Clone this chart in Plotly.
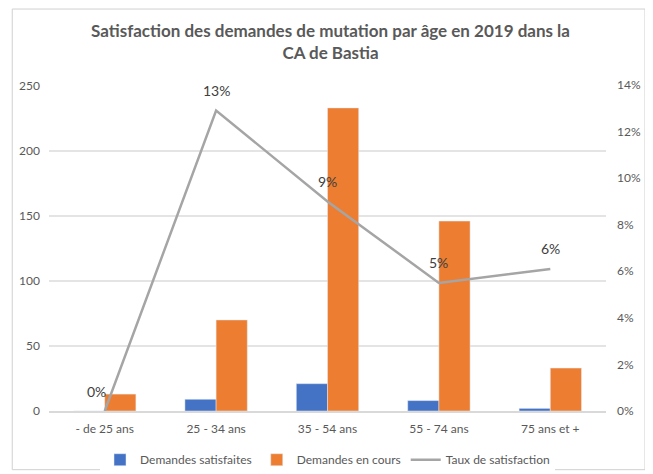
import plotly.graph_objects as go

categories = ["- de 25 ans", "25 - 34 ans", "35 - 54 ans", "55 - 74 ans", "75 ans et +"]
satisfaites = [0, 9, 21, 8, 2]
en_cours = [13, 70, 233, 146, 33]
taux = [0.0, 0.129, 0.09, 0.055, 0.061]
taux_labels = ["0%", "13%", "9%", "5%", "6%"]

fig = go.Figure()
fig.add_trace(go.Bar(x=categories, y=satisfaites, name="Demandes satisfaites",
                     marker_color="#4472C4"))
fig.add_trace(go.Bar(x=categories, y=en_cours, name="Demandes en cours",
                     marker_color="#ED7D31"))
fig.add_trace(go.Scatter(x=categories, y=taux, name="Taux de satisfaction",
                         yaxis="y2", mode="lines",
                         line=dict(color="#A5A5A5", width=2.5)))

# data labels above the line points
for i, (c, v, t) in enumerate(zip(categories, taux, taux_labels)):
    fig.add_annotation(x=c, y=v, xref="x", yref="y2", text=t, showarrow=False,
                       yshift=20, xshift=-8 if i == 0 else 0,
                       font=dict(size=14, color="#404040"))

# page body has an 8px margin, so the figure is a bit smaller than the window
fig.update_layout(
    width=645, height=466,
    paper_bgcolor="white", plot_bgcolor="white",
    font=dict(family="Lato, Open Sans, sans-serif", color="#595959"),
    title=dict(text="<b>Satisfaction des demandes de mutation par âge en 2019 dans la<br>CA de Bastia</b>",
               x=0.5, xanchor="center", y=0.938, yanchor="top",
               font=dict(size=17, color="#595959")),
    margin=dict(l=41, r=47, t=77, b=63, autoexpand=False),
    barmode="group", bargap=0.44, bargroupgap=0,
    xaxis=dict(showline=True, linecolor="#D9D9D9", linewidth=1.5,
               tickfont=dict(size=12), ticks="", automargin=False,
               ticklabelstandoff=6, showgrid=False),
    yaxis=dict(range=[0, 250.6], dtick=50, showgrid=True, gridcolor="#E4E4E4",
               gridwidth=2, zeroline=False, automargin=False,
               tickfont=dict(size=12), ticklabelstandoff=8),
    yaxis2=dict(range=[0, 0.14], dtick=0.02, tickformat=".0%", overlaying="y",
                side="right", showgrid=False, zeroline=False, automargin=False,
                tickfont=dict(size=12), ticklabelstandoff=10),
    legend=dict(orientation="h", x=0.5, xanchor="center", y=-0.105, yanchor="top",
                font=dict(size=12), traceorder="normal"),
    shapes=[dict(type="rect", xref="paper", yref="paper",
                 x0=-0.066, x1=1.07, y0=-0.18, y1=1.233,
                 line=dict(color="#D0D0D0", width=1))],
)

fig.write_html("out.html")
